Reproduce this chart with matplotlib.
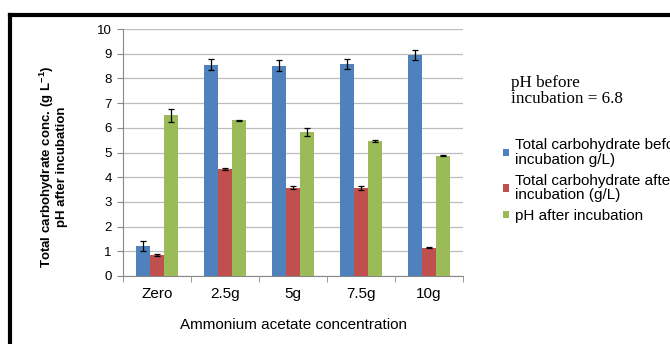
import matplotlib
matplotlib.use("Agg")
import matplotlib.pyplot as plt
from matplotlib.lines import Line2D
import numpy as np

plt.rcParams["font.family"] = ["Liberation Sans", "DejaVu Sans"]

categories = ["Zero", "2.5g", "5g", "7.5g", "10g"]
carb_before = [1.22, 8.55, 8.52, 8.57, 8.93]
carb_before_err = [0.20, 0.22, 0.22, 0.20, 0.20]
carb_after = [0.85, 4.35, 3.58, 3.55, 1.15]
carb_after_err = [0.05, 0.04, 0.05, 0.08, 0.01]
ph_after = [6.50, 6.30, 5.83, 5.47, 4.87]
ph_after_err = [0.28, 0.03, 0.18, 0.05, 0.01]

series_labels = [
    "Total carbohydrate before\nincubation g/L)",
    "Total carbohydrate after\nincubation (g/L)",
    "pH after incubation",
]
colors = ["#4F81BD", "#C0504D", "#9BBB59"]

fig = plt.figure(figsize=(6.7, 3.44), dpi=100)
ax = fig.add_axes([123 / 670, 1 - 276 / 344, 340 / 670, 247 / 344])

x = np.arange(len(categories))
width = 0.21
series = [
    (carb_before, carb_before_err),
    (carb_after, carb_after_err),
    (ph_after, ph_after_err),
]
handles = []
for i, (vals, errs) in enumerate(series):
    b = ax.bar(x + (i - 1) * width, vals, width, color=colors[i], zorder=3,
               yerr=errs, capsize=2.5,
               error_kw=dict(ecolor="black", elinewidth=0.9, capthick=0.9, zorder=4))
    handles.append(b)

ax.set_xlim(-0.5, len(categories) - 0.5)
ax.set_ylim(0, 10)
ax.set_yticks(range(0, 11))
ax.yaxis.grid(True, color="#BDBDBD", linewidth=0.9, zorder=0)
ax.set_axisbelow(True)

ax.set_xticks(x)
ax.set_xticklabels(categories, fontsize=11)
ax.set_xticks(np.arange(-0.5, len(categories)), minor=True)
ax.tick_params(axis="x", which="major", length=0, pad=8)
ax.tick_params(axis="x", which="minor", length=4, color="#888888")
ax.tick_params(axis="y", length=4, color="#888888", labelsize=9.5, pad=4)

for side in ["top", "right"]:
    ax.spines[side].set_visible(False)
for side in ["left", "bottom"]:
    ax.spines[side].set_color("#888888")

ax.set_xlabel("Ammonium acetate concentration", fontsize=11, labelpad=12)
fig.text(53 / 670, 1 - 167 / 344,
         "Total carbohydrate conc. (g L$^{\\mathregular{-1}}$)\npH after incubation",
         rotation=90, ha="center", va="center", fontsize=9.5,
         fontweight="bold", linespacing=1.05)

fig.text(511 / 670, 1 - 91 / 344, "pH before\nincubation = 6.8",
         family=["Liberation Serif", "DejaVu Serif"], fontsize=12.3,
         ha="left", va="center", linespacing=1.0)

# legend text runs past the right edge, as in the original figure
leg = fig.legend(handles, series_labels, loc="upper left",
                 bbox_to_anchor=(497 / 670, 1 - 132 / 344), frameon=False,
                 fontsize=11, handlelength=0.4, handleheight=0.4,
                 handletextpad=0.4, labelspacing=0.45, borderaxespad=0)
for t in leg.get_texts():
    t.set_linespacing(1.05)

# black frame around the chart area
fig.add_artist(Line2D([9.5 / 670, 1], [1 - 15 / 344, 1 - 15 / 344],
                      transform=fig.transFigure, color="black", linewidth=3))
fig.add_artist(Line2D([9.5 / 670, 9.5 / 670], [0, 1 - 15 / 344],
                      transform=fig.transFigure, color="black", linewidth=3))

fig.savefig("out.png", dpi=100)
